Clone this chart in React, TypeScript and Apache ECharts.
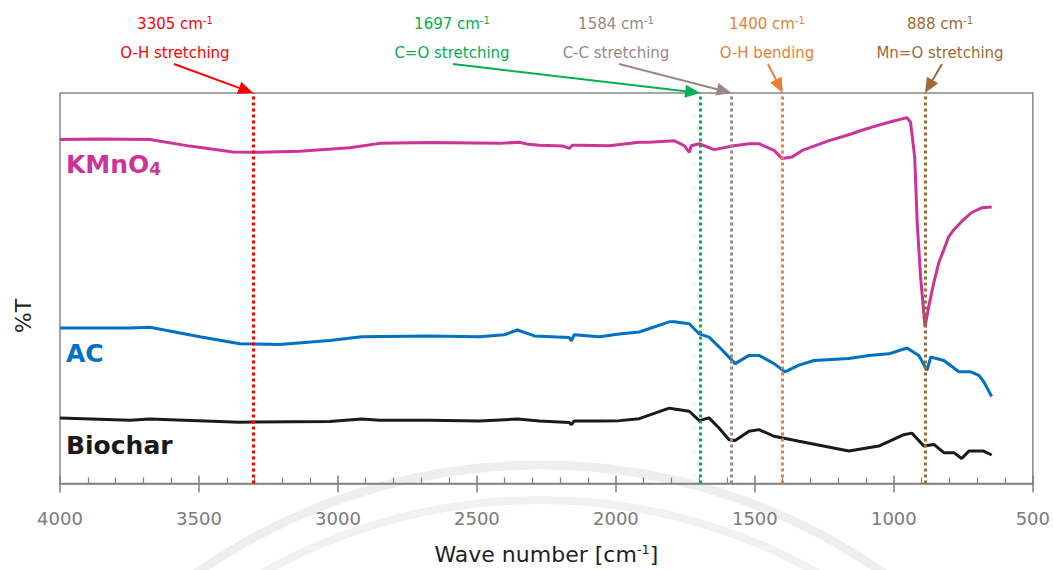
import React, { useEffect, useRef } from "react";
import * as echarts from "echarts";

// ---- data (wave number in cm-1, transmittance in arbitrary %T units) ----
const kmno4Wn = [4000, 3856, 3677, 3533, 3378, 3281, 3138, 2958, 2850, 2671, 2419, 2347, 2318, 2275, 2189, 2168, 2157, 2132, 2024, 1916, 1880, 1790, 1754, 1736, 1729, 1700, 1647, 1575, 1521, 1485, 1431, 1402, 1366, 1330, 1233, 1162, 1118, 1082, 1018, 953, 940, 925, 916, 904, 888, 874, 856, 838, 820, 802, 784, 756, 720, 684, 648];
const kmno4T = [88.1, 88.2, 88.1, 86.4, 84.9, 84.8, 85.1, 86.0, 87.1, 87.3, 87.1, 87.4, 86.9, 86.6, 86.4, 85.8, 86.6, 86.6, 86.5, 87.4, 87.4, 87.8, 86.5, 84.8, 86.5, 87.0, 85.5, 86.5, 87.0, 87.0, 85.3, 83.2, 83.6, 85.3, 87.8, 89.3, 90.4, 91.2, 92.5, 93.7, 92.5, 83.6, 66.8, 53.1, 40.1, 45.5, 51.5, 56.6, 59.9, 63.3, 65.0, 67.1, 69.4, 70.6, 70.8];

const acWn = [4000, 3748, 3677, 3497, 3353, 3210, 3030, 2915, 2671, 2491, 2401, 2354, 2293, 2168, 2160, 2150, 2060, 1988, 1916, 1808, 1790, 1736, 1700, 1665, 1629, 1571, 1521, 1485, 1431, 1392, 1341, 1287, 1162, 1090, 1018, 953, 910, 881, 867, 820, 766, 723, 694, 677, 648];
const acT = [39.8, 39.8, 40.0, 37.6, 35.8, 35.6, 36.6, 37.6, 37.8, 37.6, 38.1, 39.3, 37.8, 37.4, 36.5, 38.1, 37.6, 38.3, 38.8, 41.4, 41.4, 40.9, 38.3, 37.5, 35.0, 30.7, 32.8, 32.8, 30.7, 28.6, 30.3, 31.5, 32.0, 32.8, 33.2, 34.7, 32.8, 29.0, 32.4, 31.5, 28.6, 28.6, 27.7, 26.1, 22.3];

const biocharWn = [4000, 3748, 3677, 3353, 3030, 2915, 2850, 2671, 2491, 2354, 2275, 2168, 2160, 2150, 2060, 1988, 1916, 1808, 1790, 1736, 1700, 1665, 1629, 1593, 1571, 1521, 1485, 1431, 1341, 1162, 1054, 964, 935, 892, 856, 820, 784, 756, 730, 677, 648];
const biocharT = [16.8, 16.2, 16.5, 15.7, 15.9, 16.5, 16.2, 16.2, 16.0, 16.5, 16.0, 15.6, 15.1, 16.0, 16.0, 16.1, 16.6, 19.3, 19.1, 18.5, 16.1, 16.8, 14.2, 11.2, 11.0, 13.4, 13.8, 12.1, 10.8, 8.3, 9.6, 12.5, 12.9, 9.6, 10.0, 7.9, 7.9, 6.4, 8.3, 8.3, 7.3];

const peakWn = [3305, 1697, 1584, 1400, 888];
const peakNames = ["O-H stretching", "C=O stretching", "C-C stretching", "O-H bending", "Mn=O stretching"];
const peakColors = ["#FF0000", "#00B050", "#9A8784", "#ED7D31", "#9C6A34"];

const xMin = 500;
const xMax = 4000;
const xStep = 500;

// ---- layout constants ----
const W = 1053;
const H = 570;
const GRID_TOP = 93;
const labelCenterX = [175, 452, 616, 767, 940];
const arrowStartX = [174, 453, 619, 768, 942];
const arrowStartY = 64;

const seriesColors = { kmno4: "#CC3399", ac: "#0070C0", biochar: "#1A1A1A" };
const FONT = "DejaVu Sans";

const zip = (a: number[], b: number[]) => a.map((v, i) => [v, b[i]]);

export default function App() {
  const ref = useRef<HTMLDivElement>(null);

  useEffect(() => {
    if (!ref.current) return;
    const chart = echarts.init(ref.current, undefined, { renderer: "svg" });
    const lineBase = { type: "line", showSymbol: false, smooth: false, silent: true };
    chart.setOption({
      animation: false,
      grid: { left: 60, right: 19, top: GRID_TOP, bottom: 86, show: true, borderColor: "#888888", borderWidth: 1.5, backgroundColor: "transparent" },
      xAxis: [
        {
          type: "value",
          min: xMin,
          max: xMax,
          interval: xStep,
          inverse: true,
          position: "bottom",
          axisLine: { show: true, onZero: false, lineStyle: { color: "#7F7F7F", width: 1.5 } },
          axisTick: { show: true, inside: true, length: 8, lineStyle: { color: "#7F7F7F", width: 1.5 } },
          minorTick: { show: true, splitNumber: 5, length: 6, lineStyle: { color: "#7F7F7F", width: 1.2 } },
          splitLine: { show: false },
          axisLabel: { color: "#7A7A7A", fontSize: 18, fontFamily: FONT, margin: 26, formatter: (v: number) => String(v) },
          name: "{n|Wave number [cm}{s|-1}{n|]}",
          nameLocation: "middle",
          nameGap: 59,
          nameTextStyle: {
            rich: {
              n: { fontSize: 22, color: "#1F1F1F", fontFamily: FONT },
              s: { fontSize: 13, color: "#1F1F1F", fontFamily: FONT, verticalAlign: "top", padding: [0, 0, 10, 0] },
            },
          },
        },
        {
          type: "value",
          min: xMin,
          max: xMax,
          interval: xStep,
          inverse: true,
          position: "bottom",
          axisLine: { show: false, onZero: false },
          axisTick: { show: true, inside: false, length: 9, lineStyle: { color: "#7F7F7F", width: 1.5 } },
          axisLabel: { show: false },
          splitLine: { show: false },
        },
      ],
      yAxis: { type: "value", min: 0, max: 100, show: false },
      series: [
        {
          ...lineBase,
          name: "KMnO4",
          data: zip(kmno4Wn, kmno4T),
          lineStyle: { width: 3, color: seriesColors.kmno4 },
          itemStyle: { color: seriesColors.kmno4 },
          markLine: {
            silent: true,
            symbol: ["none", "none"],
            label: { show: false },
            lineStyle: { width: 3, type: [3, 3], opacity: 1 },
            emphasis: { disabled: true },
            data: peakWn.map((w, i) => ({
              xAxis: w,
              lineStyle: { color: peakColors[i], width: 3, type: [3, 3], opacity: 1 },
            })),
          },
        },
        { ...lineBase, name: "AC", data: zip(acWn, acT), lineStyle: { width: 3, color: seriesColors.ac }, itemStyle: { color: seriesColors.ac } },
        { ...lineBase, name: "Biochar", data: zip(biocharWn, biocharT), lineStyle: { width: 3, color: seriesColors.biochar }, itemStyle: { color: seriesColors.biochar } },
      ],
    });

    const graphics: any[] = [];
    // faint watermark arcs
    graphics.push({ type: "circle", z: -10, silent: true, shape: { cx: 540, cy: 1065, r: 600 }, style: { fill: "none", stroke: "#EEEEEE", lineWidth: 9 } });
    graphics.push({ type: "circle", z: -10, silent: true, shape: { cx: 540, cy: 1065, r: 565 }, style: { fill: "none", stroke: "#F1F1F1", lineWidth: 8 } });

    peakWn.forEach((w, i) => {
      const tx = chart.convertToPixel({ xAxisIndex: 0 }, w) as number;
      const ty = GRID_TOP;
      const sx = arrowStartX[i];
      const sy = arrowStartY;
      const dx = tx - sx;
      const dy = ty - sy;
      const len = Math.sqrt(dx * dx + dy * dy);
      const ux = dx / len;
      const uy = dy / len;
      const hl = 15;
      const hw = 6.5;
      const bx = tx - ux * hl;
      const by = ty - uy * hl;
      const nx = -uy;
      const ny = ux;
      const c = peakColors[i];
      graphics.push({ type: "line", silent: true, z: 50, shape: { x1: sx, y1: sy, x2: bx, y2: by }, style: { stroke: c, lineWidth: 2 } });
      graphics.push({
        type: "polygon",
        silent: true,
        z: 50,
        shape: { points: [[tx, ty], [bx + nx * hw, by + ny * hw], [bx - nx * hw, by - ny * hw]] },
        style: { fill: c },
      });
      graphics.push({
        type: "text",
        silent: true,
        z: 50,
        x: labelCenterX[i],
        y: 24,
        style: {
          text: `{a|${w} cm}{s|-1}`,
          align: "center",
          verticalAlign: "middle",
          rich: {
            a: { fontSize: 15, fill: c, fontFamily: FONT },
            s: { fontSize: 10, fill: c, fontFamily: FONT, verticalAlign: "top", padding: [0, 0, 8, 0] },
          },
        },
      });
      graphics.push({
        type: "text",
        silent: true,
        z: 50,
        x: labelCenterX[i],
        y: 53,
        style: { text: peakNames[i], align: "center", verticalAlign: "middle", fontSize: 15, fill: c, fontFamily: FONT },
      });
    });

    // series labels
    graphics.push({
      type: "text",
      silent: true,
      z: 60,
      x: 66,
      y: 164,
      style: {
        text: "{m|KMnO}{d|4}",
        verticalAlign: "middle",
        rich: {
          m: { fontSize: 25, fontWeight: "bold", fill: seriesColors.kmno4, fontFamily: FONT },
          d: { fontSize: 17, fontWeight: "bold", fill: seriesColors.kmno4, fontFamily: FONT, verticalAlign: "bottom", padding: [10, 0, 0, 0] },
        },
      },
    });
    graphics.push({ type: "text", silent: true, z: 60, x: 66, y: 353, style: { text: "AC", verticalAlign: "middle", fontSize: 25, fontWeight: "bold", fill: seriesColors.ac, fontFamily: FONT } });
    graphics.push({ type: "text", silent: true, z: 60, x: 66, y: 445, style: { text: "Biochar", verticalAlign: "middle", fontSize: 25, fontWeight: "bold", fill: seriesColors.biochar, fontFamily: FONT } });
    // y axis title
    graphics.push({
      type: "text",
      silent: true,
      z: 60,
      x: 23,
      y: 316,
      rotation: Math.PI / 2,
      style: { text: "%T", align: "center", verticalAlign: "middle", fontSize: 22, fill: "#1F1F1F", fontFamily: FONT },
    });

    chart.setOption({ graphic: graphics });

    return () => chart.dispose();
  }, []);

  return <div ref={ref} style={{ position: "absolute", left: 0, top: 0, width: W, height: H, background: "#fff" }} />;
}
